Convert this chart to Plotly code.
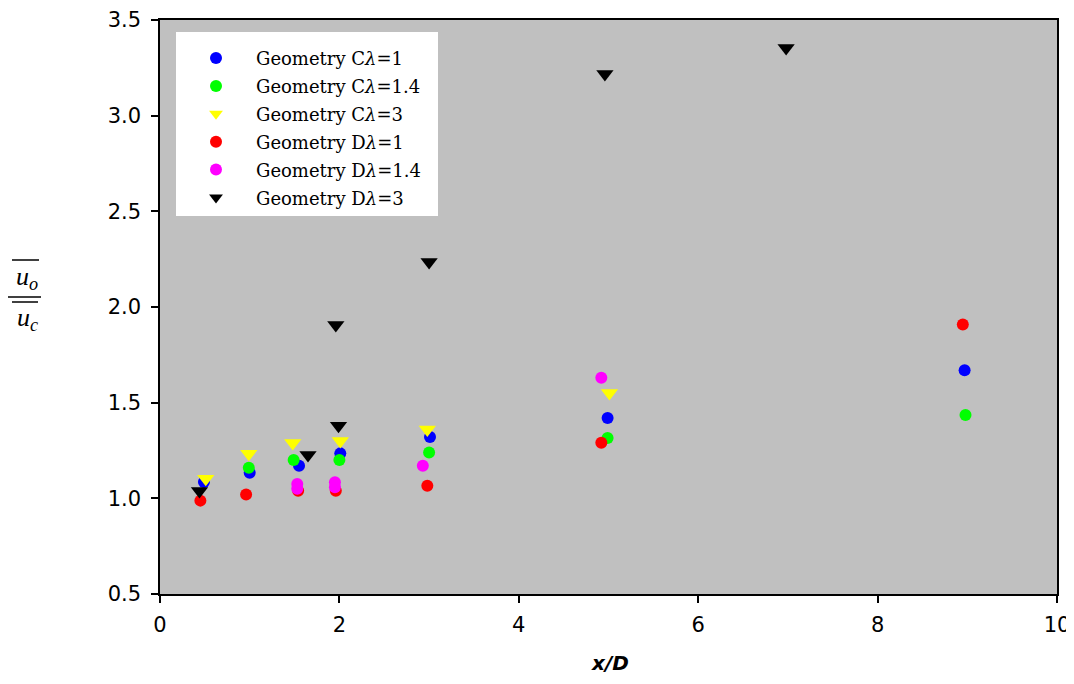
import plotly.graph_objects as go

# ---- data ----
names = ["Geometry C<i>λ</i>=1", "Geometry C<i>λ</i>=1.4", "Geometry C<i>λ</i>=3",
         "Geometry D<i>λ</i>=1", "Geometry D<i>λ</i>=1.4", "Geometry D<i>λ</i>=3"]

c1_x = [0.49, 1.00, 1.55, 2.01, 3.01, 4.99, 8.97]
c1_y = [1.085, 1.134, 1.17, 1.235, 1.32, 1.42, 1.67]

c14_x = [0.99, 1.49, 2.00, 3.00, 4.99, 8.98]
c14_y = [1.16, 1.20, 1.20, 1.24, 1.315, 1.436]

c3_x = [0.51, 0.99, 1.48, 2.01, 2.98, 5.01]
c3_y = [1.103, 1.233, 1.289, 1.30, 1.36, 1.55]

d1_x = [0.45, 0.96, 1.54, 1.96, 2.98, 4.92, 8.95]
d1_y = [0.988, 1.02, 1.04, 1.04, 1.066, 1.29, 1.908]

d14_x = [1.53, 1.53, 1.95, 1.95, 2.93, 4.92]
d14_y = [1.075, 1.05, 1.084, 1.058, 1.17, 1.63]

d3_x = [0.44, 1.65, 1.99, 1.96, 3.00, 4.96, 6.98]
d3_y = [1.038, 1.227, 1.38, 1.906, 2.235, 3.218, 3.354]

xs = [c1_x, c14_x, c3_x, d1_x, d14_x, d3_x]
ys = [c1_y, c14_y, c3_y, d1_y, d14_y, d3_y]
colors = ["#0000ff", "#00ff00", "#ffff00", "#ff0000", "#ff00ff", "#000000"]
symbols = ["circle", "circle", "triangle-down", "circle", "circle", "triangle-down"]
sizes = [12, 12, 15, 12, 12, 15]

x_ticks = [0, 2, 4, 6, 8, 10]
y_ticks = [0.5, 1.0, 1.5, 2.0, 2.5, 3.0, 3.5]

# page has an 8px body margin; figure sized to fit the 1074x684 window
OFF = 8
W, H = 1066, 668
L, R, T, B = 160 - OFF, 17, 20 - OFF, 82
PW, PH = W - L - R, H - T - B


def px(xpage):
    return (xpage - OFF - L) / PW


def py(ypage):
    return (H - B - (ypage - OFF)) / PH


fig = go.Figure()
for i in range(6):
    fig.add_trace(go.Scatter(
        x=xs[i], y=ys[i], mode="markers", name=names[i] + "\u00a0\u00a0",
        legendgroup=f"g{i}",
        marker=dict(color=colors[i], symbol=symbols[i], size=sizes[i],
                    line=dict(width=0)),
    ))

axis_font = dict(family="DejaVu Sans, sans-serif", size=21, color="black")

fig.update_layout(
    template="none",
    width=W, height=H,
    margin=dict(l=L, r=R, t=T, b=B, autoexpand=False),
    paper_bgcolor="white",
    plot_bgcolor="#c0c0c0",
    showlegend=True,
    legend=dict(
        x=px(176), y=py(32), xanchor="left", yanchor="top",
        bgcolor="white", borderwidth=0,
        font=dict(family="DejaVu Serif, serif", size=18, color="black"),
        tracegroupgap=1.5,
        itemsizing="constant",
        itemwidth=70,
        title=dict(text="\u00a0", font=dict(size=6)),
    ),
    xaxis=dict(
        range=[0, 10], tickvals=x_ticks, ticktext=[str(v) for v in x_ticks],
        showgrid=False, zeroline=False, automargin=False,
        showline=True, linecolor="black", linewidth=1.5, mirror=True,
        ticks="outside", ticklen=7, tickwidth=1.5, tickcolor="black",
        tickfont=axis_font, ticklabelstandoff=4, ticklabeloverflow="allow",
    ),
    yaxis=dict(
        range=[0.5, 3.5], tickvals=y_ticks, ticktext=[f"{v:.1f}" for v in y_ticks],
        showgrid=False, zeroline=False, automargin=False,
        showline=True, linecolor="black", linewidth=1.5, mirror=True,
        ticks="outside", ticklen=7, tickwidth=1.5, tickcolor="black",
        tickfont=axis_font, ticklabelstandoff=6, ticklabeloverflow="allow",
    ),
)

# x-axis title, placed as low as the window allows
fig.add_annotation(xref="paper", yref="paper", x=px(610), y=py(677),
                   text="<b><i>x/D</i></b>", showarrow=False,
                   font=dict(family="DejaVu Sans, sans-serif", size=20, color="black"),
                   xanchor="center", yanchor="bottom")

# y-axis title: overline(u_o) / overline(u_c)
lab_font = dict(family="Liberation Serif, Times New Roman, serif", size=26, color="black")
fig.add_annotation(xref="paper", yref="paper", x=px(27), y=py(278),
                   text="<i>u<sub>o</sub></i>", showarrow=False, font=lab_font,
                   xanchor="center", yanchor="middle")
fig.add_annotation(xref="paper", yref="paper", x=px(27), y=py(319),
                   text="<i>u<sub>c</sub></i>", showarrow=False, font=lab_font,
                   xanchor="center", yanchor="middle")
for (x0, x1, yy) in [(12, 39, 260), (8, 41, 297), (12, 38, 302)]:
    fig.add_shape(type="line", xref="paper", yref="paper",
                  x0=px(x0), x1=px(x1), y0=py(yy), y1=py(yy),
                  line=dict(color="black", width=1.5))

fig.write_html("out.html")
